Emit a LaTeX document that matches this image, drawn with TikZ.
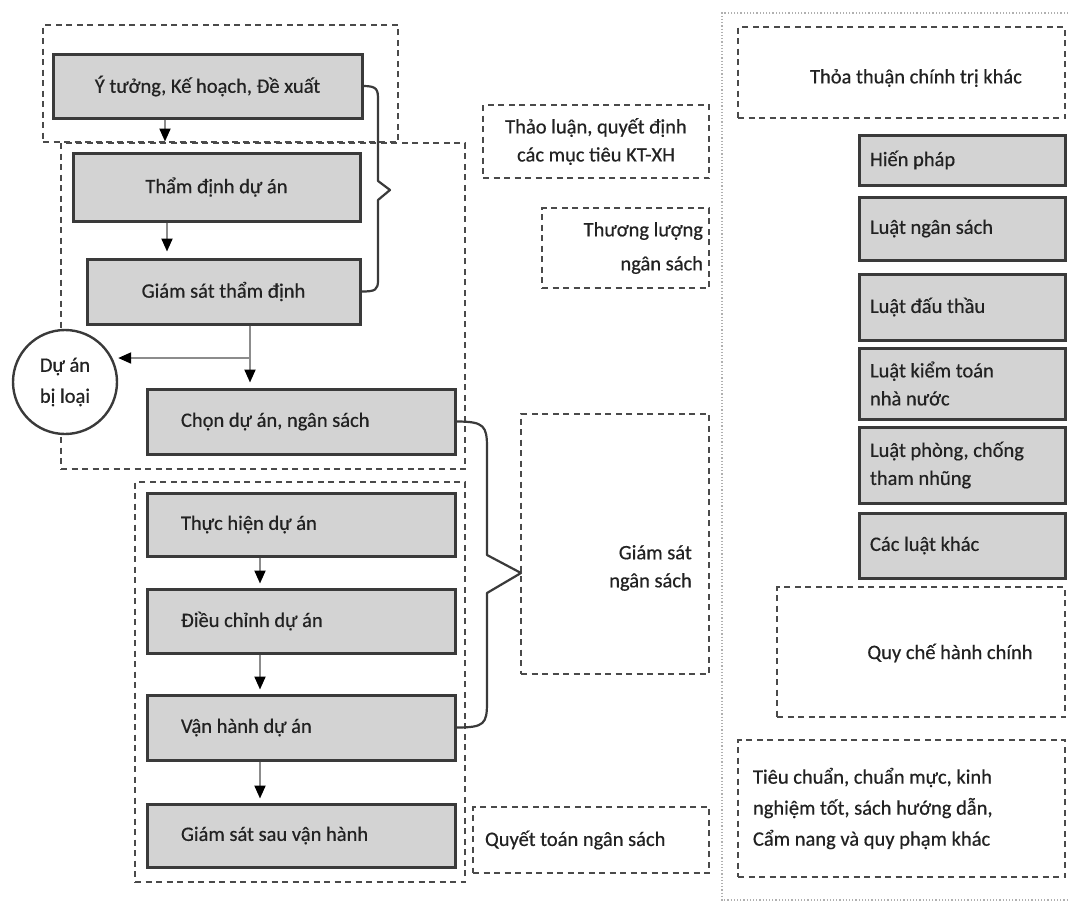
\documentclass[tikz,border=0pt]{standalone}
\usepackage{fontspec}
\setmainfont{Carlito}[FakeBold=0.5]
\usetikzlibrary{arrows.meta}
\definecolor{bordc}{HTML}{3A3A3A}
\definecolor{fillc}{HTML}{D3D3D3}
\definecolor{txtc}{HTML}{222222}
\definecolor{dashc}{HTML}{4A4A4A}
\definecolor{connc}{HTML}{8C8C8C}
\definecolor{framec}{HTML}{B0B0B0}
\newcommand\mainfs{\fontsize{20.5}{28}\selectfont}
\tikzset{
 gbox/.style={draw=bordc, line width=3pt, fill=fillc, text=txtc, font=\mainfs, inner sep=0pt},
 lbox/.style={gbox, inner xsep=34pt, text width=240pt, align=flush left},
 rbox/.style={gbox, inner xsep=11pt, text width=184pt, align=flush left},
 dbox/.style={draw=dashc, line width=2.8pt, dash pattern=on 6pt off 4.5pt, text=txtc, font=\mainfs, inner sep=0pt},
 conn/.style={draw=connc, line width=2pt, -{Triangle[length=13pt,width=11pt,color=black]}},
 brace/.style={draw=bordc, line width=2.2pt, line join=round},
 plain/.style={text=txtc, font=\mainfs, inner sep=0pt},
}
\begin{document}
\begin{tikzpicture}[x=1pt,y=-1pt]
\fill[white] (0,0) rectangle (1068,910);
\useasboundingbox (0,0) rectangle (1068,910);
% light frame of the right column
\draw[framec, line width=1.2pt, dotted] (1068,13) -- (722,13) -- (722,900) -- (1068,900);
% grouping frames
\node[dbox, minimum width=355pt, minimum height=117pt] (g1) at (220.5,83.5) {};
\node[dbox, minimum width=404pt, minimum height=326pt] (g2) at (263,306) {};
\node[dbox, minimum width=330pt, minimum height=400pt] (g3) at (300,682) {};
% left process boxes
\node[gbox, minimum width=309pt, minimum height=64pt] (n1) at (207.5,86) {Ý tưởng, Kế hoạch, Đề xuất};
\node[gbox, minimum width=287pt, minimum height=68pt] (n2) at (216.5,187) {Thẩm định dự án};
\node[gbox, minimum width=273pt, minimum height=65pt] (n3) at (223.5,291.5) {Giám sát thẩm định};
\node[lbox, minimum height=65pt] (n4) at (301,421.5) {Chọn dự án, ngân sách};
\node[lbox, minimum height=63pt] (n5) at (301,524.5) {Thực hiện dự án};
\node[lbox, minimum height=64pt] (n6) at (301,621) {Điều chỉnh dự án};
\node[lbox, minimum height=65pt] (n7) at (301,727.5) {Vận hành dự án};
\node[lbox, minimum height=63pt] (n8) at (301,835.5) {Giám sát sau vận hành};
\node[plain, circle, draw=bordc, line width=2.4pt, fill=white, minimum size=104pt, align=center] (circ) at (65,382) {Dự án\\[3pt]bị loại};
% middle dashed boxes
\node[dbox, minimum width=226pt, minimum height=73pt, align=center] (tl) at (596,141.5) {Thảo luận, quyết định\\các mục tiêu KT-XH};
\node[dbox, minimum height=80pt, inner xsep=6pt, text width=155pt, align=flush right] (tlns) at (625.5,248) {Thương lượng\\[6pt]ngân sách};
\node[dbox, minimum width=188pt, minimum height=260pt] (gsns) at (615,544) {};
\node[plain, anchor=east, align=right] (gsnsT) at (692,568) {Giám sát\\ngân sách};
\node[dbox, minimum height=66pt, inner xsep=12pt, text width=212pt, align=flush left] (qt) at (591,840) {Quyết toán ngân sách};
% right column
\node[dbox, minimum width=327pt, minimum height=91pt] (tt) at (901.5,72.5) {};
\node[plain] (ttT) at (916,78) {Thỏa thuận chính trị khác};
\node[rbox, minimum height=50pt] (r1) at (962,160) {Hiến pháp};
\node[rbox, minimum height=63pt] (r2) at (962,228.5) {Luật ngân sách};
\node[rbox, minimum height=66pt] (r3) at (962,307) {Luật đấu thầu};
\node[rbox, minimum height=71pt] (r4) at (962,383.5) {Luật kiểm toán\\nhà nước};
\node[rbox, minimum height=76pt] (r5) at (962,465) {Luật phòng, chống\\tham nhũng};
\node[rbox, minimum height=65pt] (r6) at (962,545.5) {Các luật khác};
\node[dbox, minimum width=288pt, minimum height=130pt] (qc) at (921,652) {};
\node[plain] (qcT) at (950,653) {Quy chế hành chính};
\node[dbox, minimum height=137pt, inner xsep=15pt, text width=297pt, align=flush left, font=\fontsize{20.5}{31}\selectfont] (tc) at (901.5,808.5) {Tiêu chuẩn, chuẩn mực, kinh\\nghiệm tốt, sách hướng dẫn,\\Cẩm nang và quy phạm khác};
% connectors
\coordinate (x165) at (165,0);
\coordinate (x167) at (167,0);
\coordinate (x250) at (250,0);
\coordinate (x260) at (260,0);
\coordinate (j) at (250,358);
\draw[conn, shorten >=10pt] (n1.south -| x165) -- (n2.north -| x165);
\draw[conn, shorten >=6pt] (n2.south -| x167) -- (n3.north -| x167);
\draw[conn, shorten >=5pt] (n3.south -| x250) -- (n4.north -| x250);
\draw[conn] (j) -- (j -| circ.east);
\draw[conn, shorten >=4pt] (n5.south -| x260) -- (n6.north -| x260);
\draw[conn, shorten >=4pt] (n6.south -| x260) -- (n7.north -| x260);
\draw[conn, shorten >=4pt] (n7.south -| x260) -- (n8.north -| x260);
% braces
\coordinate (tip1) at (390,190);
\coordinate (tip2) at (521,573);
\draw[brace] (n1.east) .. controls +(14,0) and +(0,-10) .. (378,100) -- (378,181) -- (tip1) -- (378,200) -- (378,280) .. controls +(0,10) and +(14,0) .. (n3.east);
\draw[brace] (n4.east) .. controls +(28,0) and +(0,-22) .. (487,448) -- (487,555) -- (tip2) -- (487,593) -- (487,702) .. controls +(0,22) and +(28,0) .. (n7.east);
\end{tikzpicture}
\end{document}
